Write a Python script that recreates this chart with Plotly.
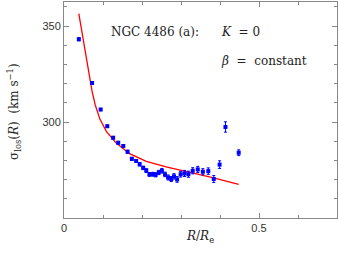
import plotly.graph_objects as go

# Observed dispersion profile
r_obs = [0.038, 0.072, 0.094, 0.111, 0.126, 0.139, 0.152, 0.163, 0.174, 0.185,
         0.194, 0.203, 0.211, 0.219, 0.228, 0.235, 0.243, 0.251, 0.259, 0.267,
         0.275, 0.282, 0.290, 0.299, 0.309, 0.319, 0.330, 0.343, 0.356, 0.370,
         0.384, 0.399, 0.414, 0.448]
sigma_obs = [343.1, 320.3, 306.5, 297.8, 291.8, 289.2, 287.5, 284.5, 280.8, 279.7,
             278.0, 276.1, 274.7, 272.7, 272.8, 272.5, 273.7, 274.6, 272.7, 271.1,
             270.3, 271.7, 270.1, 272.8, 273.2, 272.8, 274.6, 275.3, 274.1, 274.4,
             270.3, 277.8, 297.4, 284.0]
sigma_err = [0.8, 0.6, 0.6, 0.6, 0.7, 0.7, 0.7, 0.8, 0.8, 0.8,
             0.9, 0.9, 1.0, 1.0, 1.0, 1.1, 1.1, 1.2, 1.2, 1.3,
             1.3, 1.4, 1.5, 1.5, 1.6, 1.6, 1.6, 1.6, 1.6, 1.7,
             1.8, 2.0, 2.7, 1.5]

# Model curve (K = 0, beta = constant)
r_mod = [0.038, 0.050, 0.060, 0.072, 0.080, 0.092, 0.109, 0.134, 0.168, 0.211,
         0.262, 0.330, 0.381, 0.448]
sigma_mod = [356.5, 342.0, 330.0, 316.0, 309.0, 301.5, 295.0, 289.0, 283.5, 279.5,
             276.6, 273.6, 271.0, 267.5]

x_ticks = [0, 0.5]
x_ticklabels = ["0", "0.5"]
y_ticks = [300, 350]

fig = go.Figure()
fig.add_trace(go.Scatter(x=r_mod, y=sigma_mod, mode="lines",
                         line=dict(color="#ff0000", width=1.3), hoverinfo="skip"))
fig.add_trace(go.Scatter(x=r_obs, y=sigma_obs, mode="markers",
                         marker=dict(symbol="square", size=4, color="#0000ff"),
                         error_y=dict(type="data", array=sigma_err, color="#0000ff",
                                      thickness=1, width=1.5)))

axis_common = dict(showgrid=False, zeroline=False, showline=True, linecolor="#888888",
                   linewidth=1, mirror="ticks", ticks="inside", tickcolor="#888888",
                   automargin=False,
                   tickfont=dict(family="Liberation Sans, Arial", size=11, color="#333"))

W, H = 338, 258
l, r, t, b = 64, 1, 2, 40

fig.update_layout(
    width=W, height=H,
    margin=dict(l=l, r=r, t=t, b=b),
    paper_bgcolor="white", plot_bgcolor="white",
    showlegend=False,
    xaxis=dict(range=[0, 0.7], tickvals=x_ticks, ticktext=x_ticklabels, ticklen=5,
               minor=dict(dtick=0.1, ticklen=3, ticks="inside", tickcolor="#888888"),
               **axis_common),
    yaxis=dict(range=[250, 362.5], tickvals=y_ticks, ticklen=5,
               minor=dict(dtick=10, ticklen=3, ticks="inside", tickcolor="#888888"),
               **axis_common),
)

serif = dict(family="DejaVu Serif", size=12, color="#222")

pw, ph = W - l - r, H - t - b
def px(xp): return (xp - l) / pw
def py(yp): return (H - b - yp) / ph

fig.add_annotation(x=px(200), y=py(237), xref="paper", yref="paper",
                   text="<i>R</i>/<i>R</i><sub>e</sub>", showarrow=False,
                   xanchor="center", yanchor="middle", font=serif)
fig.add_annotation(x=px(14), y=py(112), xref="paper", yref="paper",
                   text="σ<sub>los</sub>(<i>R</i>)  (km s<sup>−1</sup>)", showarrow=False,
                   textangle=-90, xanchor="center", yanchor="middle", font=serif)

fig.add_annotation(x=px(109), y=py(32), xref="paper", yref="paper", text="NGC 4486 (a):",
                   showarrow=False, xanchor="left", yanchor="middle", font=serif)
fig.add_annotation(x=px(219), y=py(32), xref="paper", yref="paper", text="<i>K</i>  = 0",
                   showarrow=False, xanchor="left", yanchor="middle", font=serif)
fig.add_annotation(x=px(219), y=py(61), xref="paper", yref="paper", text="<i>β</i>  =  constant",
                   showarrow=False, xanchor="left", yanchor="middle", font=serif)

fig.write_html("out.html", config={"displayModeBar": False},
               post_script="document.body.style.margin='0';")
